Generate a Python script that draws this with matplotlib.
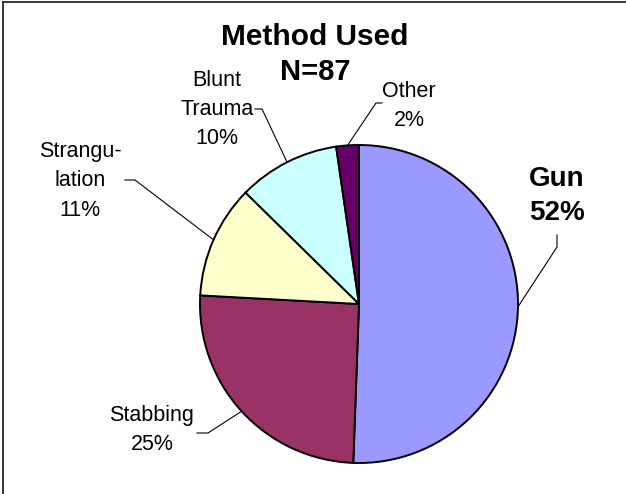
import numpy as np
import matplotlib
matplotlib.use('Agg')
import matplotlib.pyplot as plt
from matplotlib.lines import Line2D

plt.rcParams['font.family'] = ['Liberation Sans', 'DejaVu Sans']

# data (N=87)
methods = ['Gun', 'Stabbing', 'Strangu-\nlation', 'Blunt\nTrauma', 'Other']
counts = [44, 22, 10, 9, 2]
pct_labels = ['52%', '25%', '11%', '10%', '2%']
colors = ['#9999FF', '#993366', '#FFFFCC', '#CCFFFF', '#660066']

W, H = 626, 494


def py(y):
    # pixel row (from top) -> data y
    return H - y


fig = plt.figure(figsize=(W / 100, H / 100), dpi=100)
ax = fig.add_axes([0, 0, 1, 1])

cx, cy, r = 359, py(304), 159
wedges, _ = ax.pie(
    counts,
    colors=colors,
    startangle=90,
    counterclock=False,
    center=(cx, cy),
    radius=r,
    wedgeprops=dict(edgecolor='black', linewidth=1.4),
)
ax.set_xlim(0, W)
ax.set_ylim(0, H)
ax.set_aspect('equal')
ax.axis('off')

# label layout: text centre, elbow, line end near text
layout = [
    dict(xy=(557, 196), elbow=(557, 247), end=(557, 235), size=20, weight='bold', ls=1.35),
    dict(xy=(152, 430), elbow=(208, 433), end=(197, 433), size=15.5, weight='normal', ls=1.5),
    dict(xy=(80, 181), elbow=(135, 180), end=(125, 180), size=15.5, weight='normal', ls=1.5),
    dict(xy=(217, 110), elbow=(262, 109), end=(255, 109), size=15.5, weight='normal', ls=1.5),
    dict(xy=(409, 106), elbow=(376, 103), end=(382, 103), size=15.5, weight='normal', ls=1.5),
]

for w, name, pct, lay in zip(wedges, methods, pct_labels, layout):
    mid = np.deg2rad((w.theta1 + w.theta2) / 2)
    px_, py_ = cx + r * np.cos(mid), cy + r * np.sin(mid)
    ex, ey = lay['elbow']
    tx, ty = lay['end']
    ax.plot([px_, ex, tx], [py_, py(ey), py(ty)], color='black', lw=0.8)
    ax.text(lay['xy'][0], py(lay['xy'][1]), f'{name}\n{pct}', ha='center', va='center',
            fontsize=lay['size'], fontweight=lay['weight'], linespacing=lay['ls'])

ax.text(315, py(37), 'Method Used', ha='center', va='center', fontsize=21.5, fontweight='bold')
ax.text(315, py(72), 'N=87', ha='center', va='center', fontsize=21, fontweight='bold')

# chart frame: only the top and left edges are visible (cropped image)
fig.lines.append(Line2D([2.5 / W, 1], [1 - 2.5 / H, 1 - 2.5 / H], transform=fig.transFigure,
                        color='#2b2b2b', lw=1.3))
fig.lines.append(Line2D([2.5 / W, 2.5 / W], [0, 1 - 2.5 / H], transform=fig.transFigure,
                        color='#2b2b2b', lw=1.3))

fig.savefig('out.png', dpi=100)
